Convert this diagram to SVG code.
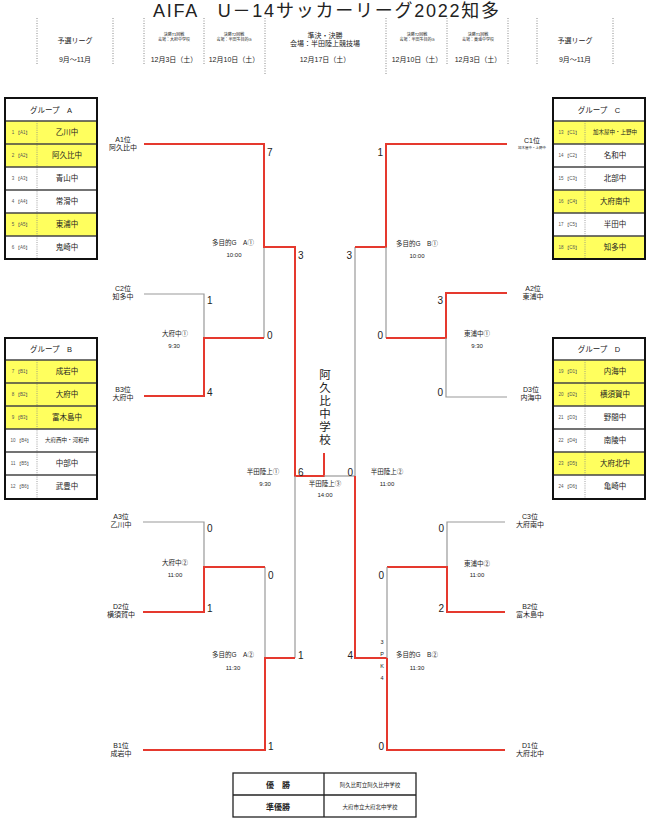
<svg xmlns="http://www.w3.org/2000/svg" width="652" height="823" viewBox="0 0 652 823">
<style>
text{font-family:"Liberation Sans","Noto Sans CJK JP",sans-serif;fill:#222}
.t{font-size:18px;text-anchor:middle}
.h{font-size:7px;text-anchor:middle}
.hs{font-size:4px;text-anchor:middle}
.dot{stroke:#888;stroke-width:1;stroke-dasharray:1 1.5;fill:none}
.box{fill:none;stroke:#111;stroke-width:2}
.sep{stroke:#444;stroke-width:1.3}
.vs{stroke:#888;stroke-width:0.8;stroke-dasharray:1 1.2}
.y{fill:#ffff5e}
.gh{font-size:7.5px;text-anchor:middle}
.num{font-size:4.5px;text-anchor:middle;fill:#555}
.nm{font-size:7.5px;text-anchor:middle}
.nms{font-size:5.5px;text-anchor:middle}
.lb{font-size:7px;text-anchor:middle}
.lbs{font-size:3.5px;text-anchor:middle}
.r{stroke:#e5392e;stroke-width:2;fill:none}
.g{stroke:#999;stroke-width:1.2;fill:none}
.sc{font-size:10px}
.scr{font-size:10px;text-anchor:end}
.m{font-size:6.5px;text-anchor:middle}
.mt{font-size:6px;text-anchor:middle}
.ch{font-size:11.5px;text-anchor:middle}
.pk{font-size:5.5px;text-anchor:middle}
.tb{font-size:8px;text-anchor:middle;font-weight:bold}
.tbs{font-size:5.5px;text-anchor:middle}
</style>

<g id="title"><text class="t" x="326" y="17" textLength="346" lengthAdjust="spacing">AIFA　U－14サッカーリーグ2022知多</text></g>

<g id="header">
<line class="dot" x1="37" y1="18" x2="37" y2="65"/>
<line class="dot" x1="113" y1="18" x2="113" y2="65"/>
<line class="dot" x1="144" y1="18" x2="144" y2="65"/>
<line class="dot" x1="204" y1="18" x2="204" y2="65"/>
<line class="dot" x1="265" y1="18" x2="265" y2="75"/>
<line class="dot" x1="386" y1="18" x2="386" y2="75"/>
<line class="dot" x1="447" y1="18" x2="447" y2="65"/>
<line class="dot" x1="508" y1="18" x2="508" y2="65"/>
<line class="dot" x1="537" y1="18" x2="537" y2="65"/>
<line class="dot" x1="613" y1="18" x2="613" y2="65"/>
<text class="h" x="75" y="43">予選リーグ</text>
<text class="h" x="75" y="62">9月～11月</text>
<text class="hs" x="174" y="36">決勝T1回戦</text>
<text class="hs" x="174" y="41">会場：大府中学校</text>
<text class="h" x="174" y="62">12月3日（土）</text>
<text class="hs" x="234" y="36">決勝T2回戦</text>
<text class="hs" x="234" y="41">会場：半田多目的G</text>
<text class="h" x="234" y="62">12月10日（土）</text>
<text class="h" x="325" y="38">準決・決勝</text>
<text class="h" x="325" y="46">会場：半田陸上競技場</text>
<text class="h" x="325" y="62">12月17日（土）</text>
<text class="hs" x="417" y="36">決勝T2回戦</text>
<text class="hs" x="417" y="41">会場：半田多目的G</text>
<text class="h" x="417" y="62">12月10日（土）</text>
<text class="hs" x="478" y="36">決勝T1回戦</text>
<text class="hs" x="478" y="41">会場：東浦中学校</text>
<text class="h" x="478" y="62">12月3日（土）</text>
<text class="h" x="575" y="43">予選リーグ</text>
<text class="h" x="575" y="62">9月～11月</text>
</g>

<g id="groupA">
<rect class="y" x="5" y="121" width="92" height="46"/>
<rect class="y" x="5" y="213" width="92" height="23"/>
<line class="vs" x1="37" y1="121" x2="37" y2="259"/>
<line class="sep" x1="5" y1="121" x2="97" y2="121"/>
<line class="sep" x1="5" y1="144" x2="97" y2="144"/>
<line class="sep" x1="5" y1="167" x2="97" y2="167"/>
<line class="sep" x1="5" y1="190" x2="97" y2="190"/>
<line class="sep" x1="5" y1="213" x2="97" y2="213"/>
<line class="sep" x1="5" y1="236" x2="97" y2="236"/>
<rect class="box" x="5" y="98" width="92" height="161"/>
<text class="gh" x="51" y="113">グループ　A</text>
<text class="num" x="21" y="134">1 【A1】</text><text class="nm" x="67" y="135">乙川中</text>
<text class="num" x="21" y="157">2 【A2】</text><text class="nm" x="67" y="158">阿久比中</text>
<text class="num" x="21" y="180">3 【A3】</text><text class="nm" x="67" y="181">青山中</text>
<text class="num" x="21" y="203">4 【A4】</text><text class="nm" x="67" y="204">常滑中</text>
<text class="num" x="21" y="226">5 【A5】</text><text class="nm" x="67" y="227">東浦中</text>
<text class="num" x="21" y="249">6 【A6】</text><text class="nm" x="67" y="250">鬼崎中</text>
</g>

<g id="groupB">
<rect class="y" x="5" y="360" width="92" height="69"/>
<line class="vs" x1="37" y1="360" x2="37" y2="499"/>
<line class="sep" x1="5" y1="360" x2="97" y2="360"/>
<line class="sep" x1="5" y1="383" x2="97" y2="383"/>
<line class="sep" x1="5" y1="406" x2="97" y2="406"/>
<line class="sep" x1="5" y1="429" x2="97" y2="429"/>
<line class="sep" x1="5" y1="452" x2="97" y2="452"/>
<line class="sep" x1="5" y1="475" x2="97" y2="475"/>
<rect class="box" x="5" y="338" width="92" height="161"/>
<text class="gh" x="51" y="352">グループ　B</text>
<text class="num" x="21" y="373">7 【B1】</text><text class="nm" x="67" y="374">成岩中</text>
<text class="num" x="21" y="396">8 【B2】</text><text class="nm" x="67" y="397">大府中</text>
<text class="num" x="21" y="419">9 【B3】</text><text class="nm" x="67" y="420">富木島中</text>
<text class="num" x="21" y="442">10 【B4】</text><text class="nms" x="67" y="442">大府西中・河和中</text>
<text class="num" x="21" y="465">11 【B5】</text><text class="nm" x="67" y="466">中部中</text>
<text class="num" x="21" y="488">12 【B6】</text><text class="nm" x="67" y="489">武豊中</text>
</g>

<g id="groupC">
<rect class="y" x="553" y="121" width="92" height="23"/>
<rect class="y" x="553" y="190" width="92" height="23"/>
<rect class="y" x="553" y="236" width="92" height="23"/>
<line class="vs" x1="585" y1="121" x2="585" y2="259"/>
<line class="sep" x1="553" y1="121" x2="645" y2="121"/>
<line class="sep" x1="553" y1="144" x2="645" y2="144"/>
<line class="sep" x1="553" y1="167" x2="645" y2="167"/>
<line class="sep" x1="553" y1="190" x2="645" y2="190"/>
<line class="sep" x1="553" y1="213" x2="645" y2="213"/>
<line class="sep" x1="553" y1="236" x2="645" y2="236"/>
<rect class="box" x="553" y="98" width="92" height="161"/>
<text class="gh" x="599" y="113">グループ　C</text>
<text class="num" x="569" y="134">13 【C1】</text><text class="nms" x="615" y="134">加木屋中・上野中</text>
<text class="num" x="569" y="157">14 【C2】</text><text class="nm" x="615" y="158">名和中</text>
<text class="num" x="569" y="180">15 【C3】</text><text class="nm" x="615" y="181">北部中</text>
<text class="num" x="569" y="203">16 【C4】</text><text class="nm" x="615" y="204">大府南中</text>
<text class="num" x="569" y="226">17 【C5】</text><text class="nm" x="615" y="227">半田中</text>
<text class="num" x="569" y="249">18 【C6】</text><text class="nm" x="615" y="250">知多中</text>
</g>

<g id="groupD">
<rect class="y" x="553" y="360" width="92" height="46"/>
<rect class="y" x="553" y="452" width="92" height="23"/>
<line class="vs" x1="585" y1="360" x2="585" y2="499"/>
<line class="sep" x1="553" y1="360" x2="645" y2="360"/>
<line class="sep" x1="553" y1="383" x2="645" y2="383"/>
<line class="sep" x1="553" y1="406" x2="645" y2="406"/>
<line class="sep" x1="553" y1="429" x2="645" y2="429"/>
<line class="sep" x1="553" y1="452" x2="645" y2="452"/>
<line class="sep" x1="553" y1="475" x2="645" y2="475"/>
<rect class="box" x="553" y="338" width="92" height="161"/>
<text class="gh" x="599" y="352">グループ　D</text>
<text class="num" x="569" y="373">19 【D1】</text><text class="nm" x="615" y="374">内海中</text>
<text class="num" x="569" y="396">20 【D2】</text><text class="nm" x="615" y="397">横須賀中</text>
<text class="num" x="569" y="419">21 【D3】</text><text class="nm" x="615" y="420">野間中</text>
<text class="num" x="569" y="442">22 【D4】</text><text class="nm" x="615" y="443">南陵中</text>
<text class="num" x="569" y="465">23 【D5】</text><text class="nm" x="615" y="466">大府北中</text>
<text class="num" x="569" y="488">24 【D6】</text><text class="nm" x="615" y="489">亀崎中</text>
</g>

<g id="teams">
<text class="lb" x="123" y="142">A1位</text><text class="lb" x="123" y="150">阿久比中</text>
<text class="lb" x="123" y="291">C2位</text><text class="lb" x="123" y="299">知多中</text>
<text class="lb" x="123" y="392">B3位</text><text class="lb" x="123" y="400">大府中</text>
<text class="lb" x="121" y="519">A3位</text><text class="lb" x="121" y="527">乙川中</text>
<text class="lb" x="121" y="609">D2位</text><text class="lb" x="121" y="617">横須賀中</text>
<text class="lb" x="121" y="748">B1位</text><text class="lb" x="121" y="756">成岩中</text>
<text class="lb" x="532" y="143">C1位</text><text class="lbs" x="532" y="149">加木屋中・上野中</text>
<text class="lb" x="533" y="291">A2位</text><text class="lb" x="533" y="299">東浦中</text>
<text class="lb" x="531" y="392">D3位</text><text class="lb" x="531" y="400">内海中</text>
<text class="lb" x="530" y="519">C3位</text><text class="lb" x="530" y="527">大府南中</text>
<text class="lb" x="530" y="609">B2位</text><text class="lb" x="530" y="617">富木島中</text>
<text class="lb" x="530" y="748">D1位</text><text class="lb" x="530" y="756">大府北中</text>
</g>

<g id="connectors">
<polyline class="g" points="144,294 204,294 204,338"/>
<polyline class="g" points="264,247 264,338"/>
<polyline class="r" points="144,144 264,144 264,247 295,247 295,476 324,476 324,453"/>
<polyline class="r" points="144,396 204,396 204,338 264,338"/>
<polyline class="g" points="143,522 204,522 204,567"/>
<polyline class="g" points="265,567 265,658"/>
<polyline class="g" points="295,476 295,658"/>
<polyline class="r" points="143,612 204,612 204,567 265,567"/>
<polyline class="r" points="143,750 265,750 265,658 295,658"/>
<polyline class="g" points="324,476 355,476"/>
<polyline class="g" points="355,247 355,476"/>
<polyline class="r" points="355,476 355,658 387,658"/>
<polyline class="r" points="507,144 386,144 386,247 355,247"/>
<polyline class="g" points="386,247 386,338"/>
<polyline class="r" points="507,293 446,293 446,338 386,338"/>
<polyline class="g" points="446,338 446,397 507,397"/>
<polyline class="g" points="505,522 447,522 447,567"/>
<polyline class="r" points="505,612 447,612 447,567 387,567"/>
<polyline class="g" points="387,567 387,658"/>
<polyline class="r" points="505,750 387,750 387,658"/>
</g>

<g id="scores">
<text class="sc" x="267" y="156">7</text>
<text class="sc" x="298" y="259">3</text>
<text class="sc" x="207" y="304">1</text>
<text class="sc" x="267" y="339">0</text>
<text class="sc" x="207" y="396">4</text>
<text class="sc" x="298" y="476">6</text>
<text class="scr" x="353" y="476">0</text>
<text class="sc" x="207" y="532">0</text>
<text class="sc" x="207" y="612">1</text>
<text class="sc" x="268" y="579">0</text>
<text class="sc" x="268" y="750">1</text>
<text class="sc" x="298" y="659">1</text>
<text class="scr" x="383" y="156">1</text>
<text class="scr" x="352" y="259">3</text>
<text class="scr" x="443" y="304">3</text>
<text class="scr" x="383" y="339">0</text>
<text class="scr" x="443" y="396">0</text>
<text class="scr" x="444" y="532">0</text>
<text class="scr" x="444" y="612">2</text>
<text class="scr" x="384" y="579">0</text>
<text class="scr" x="384" y="750">0</text>
<text class="scr" x="353" y="659">4</text>
<text class="pk" x="382" y="644">3</text>
<text class="pk" x="382" y="656">P</text>
<text class="pk" x="382" y="668">K</text>
<text class="pk" x="382" y="680">4</text>
</g>

<g id="matches">
<text class="m" x="233" y="245">多目的G　A①</text><text class="mt" x="234" y="257">10:00</text>
<text class="m" x="175" y="336">大府中①</text><text class="mt" x="174" y="348">9:30</text>
<text class="m" x="263" y="474">半田陸上①</text><text class="mt" x="265" y="486">9:30</text>
<text class="m" x="325" y="486">半田陸上③</text><text class="mt" x="325" y="497">14:00</text>
<text class="m" x="175" y="565">大府中②</text><text class="mt" x="175" y="577">11:00</text>
<text class="m" x="233" y="657">多目的G　A②</text><text class="mt" x="233" y="670">11:30</text>
<text class="m" x="417" y="246">多目的G　B①</text><text class="mt" x="417" y="258">10:00</text>
<text class="m" x="477" y="336">東浦中①</text><text class="mt" x="477" y="348">9:30</text>
<text class="m" x="387" y="474">半田陸上②</text><text class="mt" x="387" y="486">11:00</text>
<text class="m" x="477" y="566">東浦中②</text><text class="mt" x="477" y="577">11:00</text>
<text class="m" x="417" y="657">多目的G　B②</text><text class="mt" x="417" y="670">11:30</text>
</g>

<g id="champion">
<text class="ch" x="325" y="379">阿</text>
<text class="ch" x="325" y="392">久</text>
<text class="ch" x="325" y="405">比</text>
<text class="ch" x="325" y="418">中</text>
<text class="ch" x="325" y="431">学</text>
<text class="ch" x="325" y="444">校</text>
</g>

<g id="results">
<rect x="233" y="773" width="183" height="44" fill="none" stroke="#222" stroke-width="1.3"/>
<line x1="233" y1="795" x2="416" y2="795" stroke="#222" stroke-width="1.3"/>
<line x1="324" y1="773" x2="324" y2="817" stroke="#222" stroke-width="1.3"/>
<text class="tb" x="278" y="788">優　勝</text>
<text class="tb" x="278" y="810">準優勝</text>
<text class="tbs" x="370" y="787">阿久比町立阿久比中学校</text>
<text class="tbs" x="370" y="809">大府市立大府北中学校</text>
</g>
</svg>
